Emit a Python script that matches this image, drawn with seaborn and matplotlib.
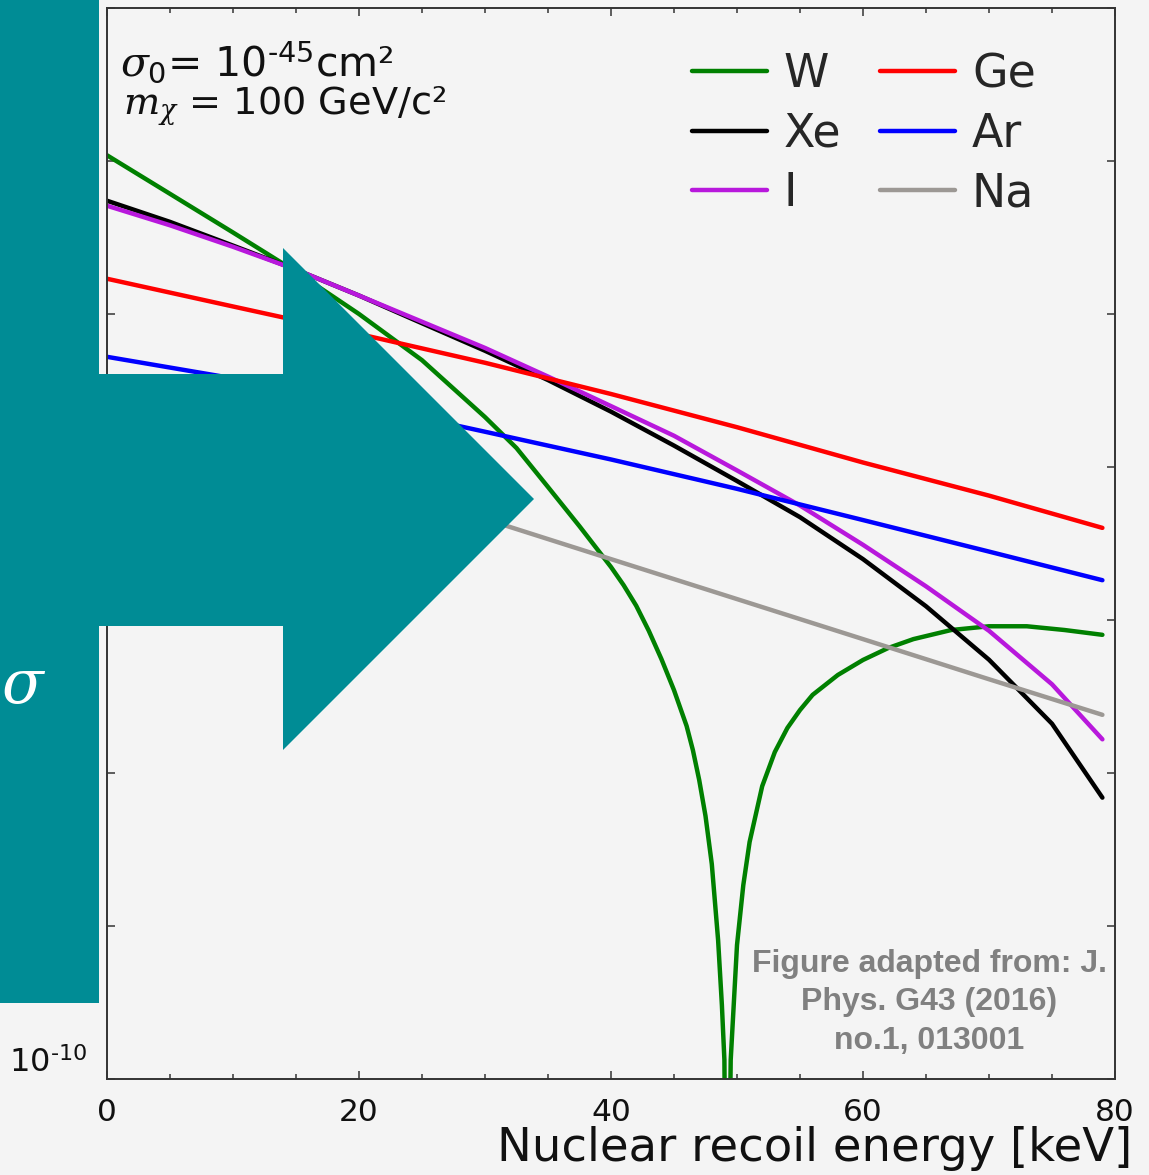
import matplotlib
matplotlib.use("Agg")
import matplotlib.pyplot as plt
from matplotlib.patches import Polygon
from matplotlib.ticker import FixedLocator, MultipleLocator, NullLocator
import pandas as pd
import seaborn as sns

# recoil energy grids [keV]
energy_fine = [0, 5, 10, 15, 20, 25, 30, 35, 40, 45, 50, 55, 60, 65, 70, 75, 79]
energy_coarse = [0, 10, 20, 30, 40, 50, 60, 70, 79]
energy_w = [0, 5, 10, 15, 20, 25, 30, 32.5, 35, 37.5, 40, 41, 42, 43, 44, 45, 46, 46.5,
            47, 47.5, 48, 48.5, 48.8, 49, 49.2, 49.5, 50, 50.5, 51, 52, 53, 54, 55, 56,
            58, 60, 62, 64, 67, 70, 73, 76, 79]

# differential rates
rate_w = [1.09e-4, 6.1e-5, 3.41e-5, 1.89e-5, 1.0e-5, 4.99e-6, 2.12e-6, 1.33e-6, 7.4e-7,
          4.1e-7, 2.22e-7, 1.69e-7, 1.24e-7, 8.5e-8, 5.56e-8, 3.48e-8, 2.03e-8, 1.41e-8,
          9.0e-9, 5.24e-9, 2.54e-9, 8.1e-10, 3.05e-10, 1.33e-10, 1e-12, 1.33e-10, 7.5e-10,
          1.85e-9, 3.54e-9, 8.2e-9, 1.37e-8, 1.97e-8, 2.58e-8, 3.24e-8, 4.37e-8, 5.48e-8,
          6.56e-8, 7.5e-8, 8.6e-8, 9.1e-8, 9.1e-8, 8.6e-8, 8.0e-8]
rate_xe = [5.5e-5, 4.0e-5, 2.8e-5, 1.95e-5, 1.32e-5, 8.7e-6, 5.75e-6, 3.7e-6, 2.3e-6,
           1.38e-6, 8.1e-7, 4.7e-7, 2.5e-7, 1.23e-7, 5.5e-8, 2.1e-8, 6.9e-9]
rate_i = [5.1e-5, 3.8e-5, 2.75e-5, 1.95e-5, 1.32e-5, 8.9e-6, 6.0e-6, 3.9e-6, 2.5e-6,
          1.6e-6, 9.5e-7, 5.6e-7, 3.1e-7, 1.66e-7, 8.5e-8, 3.8e-8, 1.66e-8]
rate_ge = [1.7e-5, 1.12e-5, 7.4e-6, 4.8e-6, 3.0e-6, 1.82e-6, 1.07e-6, 6.5e-7, 4.0e-7]
rate_ar = [5.25e-6, 3.8e-6, 2.57e-6, 1.7e-6, 1.12e-6, 7.2e-7, 4.5e-7, 2.8e-7, 1.82e-7]
rate_na = [2.78e-6, 1.52e-6, 8.4e-7, 4.57e-7, 2.5e-7, 1.37e-7, 7.5e-8, 4.1e-8, 2.4e-8]

elements = ["W", "Xe", "I", "Ge", "Ar", "Na"]
colors = ["#008000", "#000000", "#b818dc", "#ff0000", "#0000ff", "#9c9894"]
xticks = [0, 20, 40, 60, 80]
yticks = [1e-10, 1e-9, 1e-8, 1e-7, 1e-6, 1e-5, 1e-4, 1e-3]
ytick_labels = [r"10$^{\text{-10}}$", "", "", "", "", "", "", ""]

series = [(energy_w, rate_w), (energy_fine, rate_xe), (energy_fine, rate_i),
          (energy_coarse, rate_ge), (energy_coarse, rate_ar), (energy_coarse, rate_na)]
df = pd.concat([pd.DataFrame({"energy": x, "rate": y, "element": name})
                for name, (x, y) in zip(elements, series)], ignore_index=True)

bg = "#f4f4f4"
ink = "#333333"
sns.set_style("ticks", {"axes.facecolor": bg, "figure.facecolor": bg})
plt.rcParams["font.family"] = ["DejaVu Sans"]
plt.rcParams["mathtext.fontset"] = "custom"
plt.rcParams["mathtext.rm"] = "DejaVu Sans"
plt.rcParams["mathtext.it"] = "DejaVu Serif:italic"
plt.rcParams["mathtext.bf"] = "DejaVu Sans:bold"

W, H = 1149, 1175
fig = plt.figure(figsize=(W / 100, H / 100), dpi=100)
ax = fig.add_axes([107 / W, 1 - 1079 / H, 1008 / W, 1071 / H])

sns.lineplot(data=df, x="energy", y="rate", hue="element", hue_order=elements,
             palette=dict(zip(elements, colors)), linewidth=3.2, estimator=None,
             sort=False, legend=False, ax=ax)
ax.set_yscale("log")
ax.set_xlim(0, 80)
ax.set_ylim(1e-10, 1e-3)

ax.xaxis.set_major_locator(FixedLocator(xticks))
ax.xaxis.set_minor_locator(MultipleLocator(5))
ax.set_yticks(yticks)
ax.set_yticklabels(ytick_labels)
ax.yaxis.set_minor_locator(NullLocator())
ax.tick_params(which="both", direction="in", top=True, right=True, color=ink, width=1.1)
ax.tick_params(which="major", length=6)
ax.tick_params(which="minor", length=3.6)
ax.tick_params(axis="x", labelsize=22.5, pad=13.5, labelcolor="#111111")
ax.tick_params(axis="y", labelsize=23, pad=14, labelcolor="#111111")
for lab in ax.get_yticklabels():
    lab.set_verticalalignment("bottom")
for s in ax.spines.values():
    s.set_color(ink)
    s.set_linewidth(1.4)

ax.set_ylabel("")
ax.set_xlabel("Nuclear recoil energy [keV]", fontsize=33.5, ha="right", color="#111111")
ax.xaxis.set_label_coords(1.0169, -0.0439)

# legend, two columns
ax.legend(ax.get_lines()[:6], elements, ncol=2, loc="upper left",
          bbox_to_anchor=(692 / W, 1 - 52 / H), bbox_transform=fig.transFigure,
          frameon=False, fontsize=33, handlelength=1.64, handletextpad=0.36,
          columnspacing=0.85, labelspacing=0.32, borderpad=0, borderaxespad=0)

# parameters
fig.text(120 / W, 1 - 77 / H, r"$\sigma_0$= 10$^{\text{-45}}$cm²", fontsize=29.5,
         va="baseline", color="#111111")
fig.text(123 / W, 1 - 115 / H, r"$m_\chi$ = 100 GeV/c²", fontsize=27.5,
         va="baseline", color="#111111")

fig.text(929 / W, 1 - 949 / H, "Figure adapted from: J.\nPhys. G43 (2016)\nno.1, 013001",
         ha="center", va="top", multialignment="center", fontsize=23, linespacing=1.36,
         fontweight="bold", color="#808080", family=["Liberation Sans", "DejaVu Sans"])

# teal slide overlay (bar + arrow)
shape_px = [(0, 0), (99, 0), (99, 374), (283, 374), (283, 248), (534, 499), (283, 750),
            (283, 626), (99, 626), (99, 1003), (0, 1003)]
overlay = Polygon([(px / W, 1 - py / H) for px, py in shape_px], closed=True,
                  transform=fig.transFigure, facecolor="#008c95", edgecolor="none",
                  zorder=5)
fig.add_artist(overlay)
fig.text(1 / W, 1 - 703 / H, r"$\sigma$", color="white", fontsize=44, ha="left",
         va="baseline", zorder=6)

fig.savefig("out.png", dpi=100, facecolor=bg)
